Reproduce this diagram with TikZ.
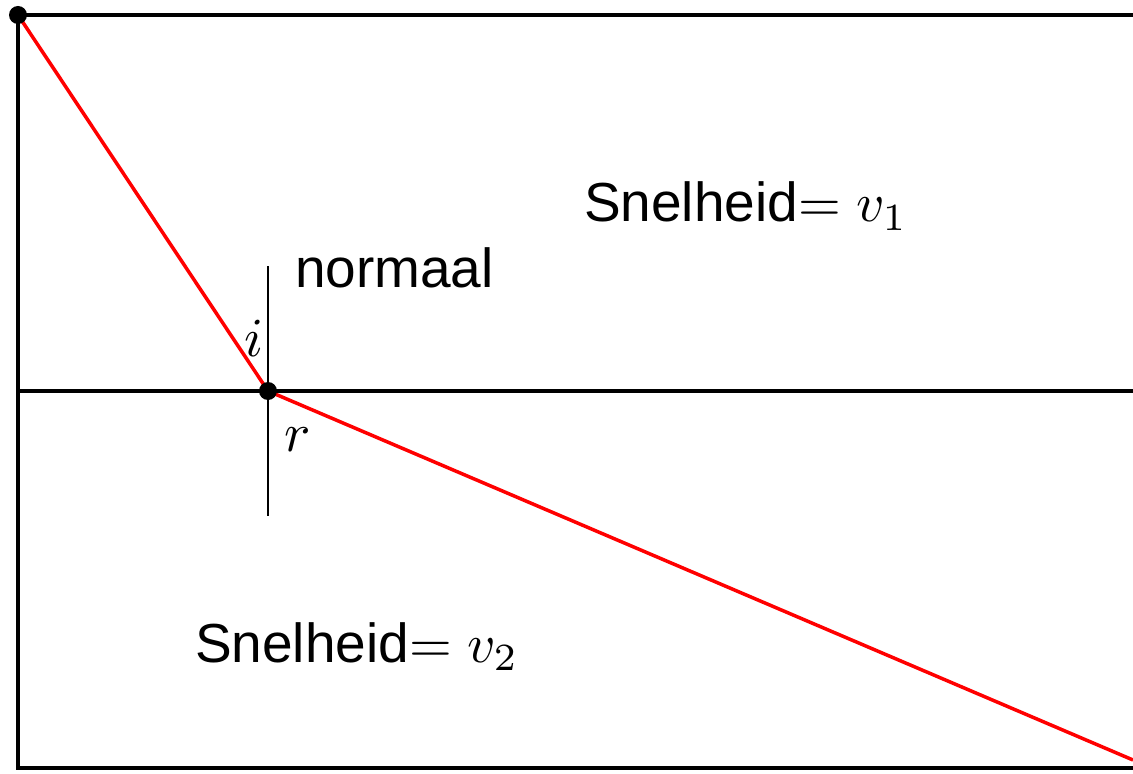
\RequirePackage{fix-cm}
\documentclass[tikz,border=0pt]{standalone}
\usepackage{fontspec}
\newfontfamily\labelfont{Liberation Sans}
\usepackage{tikz}
\usetikzlibrary{positioning}

\begin{document}
\begin{tikzpicture}[font=\fontsize{10}{12}\selectfont, every node/.style={inner sep=0pt}]
        \tikzset{
            wall/.style={line width=2.4pt},
            ray/.style={red, line width=2pt},
            normline/.style={line width=0.7pt},
            dot/.style={circle, fill=black, minimum size=0.36cm, inner sep=0pt},
            txt/.style={scale=3.13, transform shape},
            lbl/.style={txt, font=\fontsize{10}{12}\selectfont\labelfont, anchor=base west}
        }
        \useasboundingbox (-0.36,-0.1) rectangle (22.3,15.36);

        % grenzen van de twee media
        \draw[wall] (22.3,15.06) -- (0,15.06) -- (0,0) -- (22.3,0);
        \draw[wall] (0,7.54) -- (22.3,7.54);

        \coordinate (bron) at (0,15.06);
        \coordinate (punt) at (5,7.54);
        \coordinate (eind) at (22.3,0.16);
        \coordinate (nboven) at (5,10.04);
        \coordinate (nonder) at (5,5.04);

        \draw[normline] (nboven) -- (nonder);
        \draw[ray] (bron) -- (punt) -- (eind);

        \node[dot] (bronstip) at (bron) {};
        \node[dot] (puntstip) at (punt) {};

        \node[lbl] (v1) at (11.3,10.92) {Snelheid$= v_1$};
        \node[lbl] (v2) at (3.52,2.12) {Snelheid$= v_2$};
        \node[lbl] (normaal) at (5.52,9.6) {normaal};
        \node[txt] (hoeki) at (4.72,8.6) {$i$};
        \node[txt] (hoekr) at (5.6,6.56) {$r$};
    \end{tikzpicture}
\end{document}
